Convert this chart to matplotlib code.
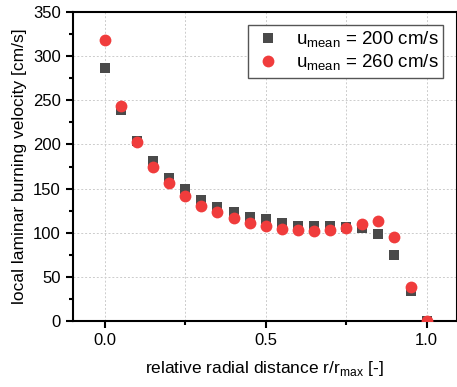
import matplotlib
matplotlib.use("Agg")
import matplotlib.pyplot as plt
from matplotlib.ticker import MultipleLocator

plt.rcParams['font.family'] = ['Liberation Sans', 'DejaVu Sans']

r = [0.0, 0.05, 0.1, 0.15, 0.2, 0.25, 0.3, 0.35, 0.4, 0.45, 0.5,
     0.55, 0.6, 0.65, 0.7, 0.75, 0.8, 0.85, 0.9, 0.95, 1.0]
v200 = [287, 239, 204, 181, 162, 149, 137, 129, 123, 118, 115,
        110.5, 108, 107.5, 107.5, 107, 105, 99, 75, 34, 0]
v260 = [318, 244, 202.5, 175, 156, 142, 130.5, 123, 116.5, 111.5, 107.5,
        104, 103.5, 102, 103.5, 105.5, 110, 113.5, 95, 38, 0]
labels = [r'u$_{\mathregular{mean}}$ = 200 cm/s', r'u$_{\mathregular{mean}}$ = 260 cm/s']

fig = plt.figure(figsize=(4.57, 3.87), dpi=100)
ax = fig.add_axes([0.159, 0.1705, 0.840, 0.7985])

ax.plot(r, v200, 's', color='#4a4a4a', markersize=7.5, markeredgewidth=0, label=labels[0], zorder=3)
ax.plot(r, v260, 'o', color='#f03c3c', markersize=8.5, markeredgewidth=0, label=labels[1], zorder=4)

ax.set_xlim(-0.1, 1.093)
ax.set_ylim(0, 350)
ax.xaxis.set_major_locator(MultipleLocator(0.5))
ax.xaxis.set_minor_locator(MultipleLocator(0.25))
ax.yaxis.set_major_locator(MultipleLocator(50))
ax.yaxis.set_minor_locator(MultipleLocator(25))
ax.xaxis.set_major_formatter(plt.FuncFormatter(lambda x, p: f'{x:.1f}'))

ax.grid(True, which='major', axis='y', linestyle=(0, (2, 2)), color='#cccccc', linewidth=0.7)
ax.grid(True, which='both', axis='x', linestyle=(0, (2, 2)), color='#cccccc', linewidth=0.7)
ax.set_axisbelow(True)

for s in ax.spines.values():
    s.set_linewidth(1.5)
ax.tick_params(axis='both', which='major', direction='out', length=5, width=1.5, labelsize=12)
ax.tick_params(axis='both', which='minor', direction='out', length=3, width=1.5)
ax.tick_params(axis='y', which='both', right=True)

ax.set_xlabel(r'relative radial distance r/r$_{\mathregular{max}}$ [-]', fontsize=12.5, labelpad=8)
ax.set_ylabel('local laminar burning velocity [cm/s]', fontsize=12.5, labelpad=4)

leg = ax.legend(loc='upper right', fontsize=13.5, frameon=True, fancybox=False,
                edgecolor='#555555', framealpha=1, borderpad=0.25, handletextpad=0.7,
                labelspacing=0.15, borderaxespad=0.7, handlelength=1.6)
leg.get_frame().set_linewidth(1.0)

fig.savefig('out.png', dpi=100)
